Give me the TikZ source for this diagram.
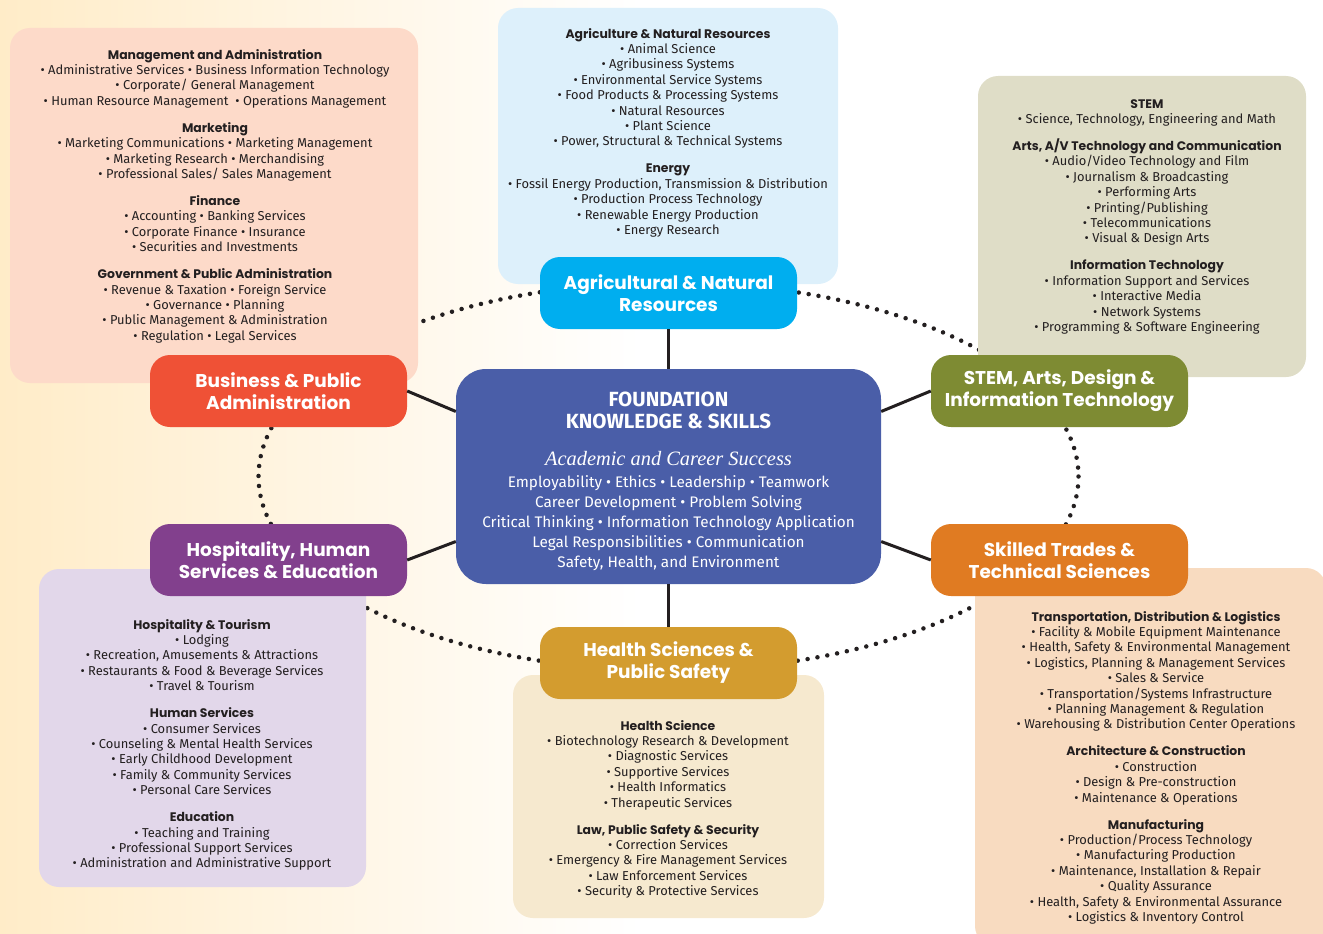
\documentclass[tikz,border=0pt]{standalone}
\usepackage{fontspec}
\setmainfont{Fira Sans}
\newfontfamily\headfont{Poppins}
\newfontfamily\italfont{Liberation Serif}
\definecolor{ink}{RGB}{35,31,32}
\definecolor{bgleft}{RGB}{255,236,200}
\definecolor{busfill}{RGB}{239,81,54}
\definecolor{busback}{RGB}{253,218,201}
\definecolor{agrifill}{RGB}{0,174,239}
\definecolor{agriback}{RGB}{221,240,251}
\definecolor{stemfill}{RGB}{126,139,51}
\definecolor{stemback}{RGB}{223,221,199}
\definecolor{tradesfill}{RGB}{224,123,34}
\definecolor{tradesback}{RGB}{248,219,192}
\definecolor{healthfill}{RGB}{211,156,47}
\definecolor{healthback}{RGB}{246,233,207}
\definecolor{hospfill}{RGB}{130,64,141}
\definecolor{hospback}{RGB}{226,215,234}
\definecolor{foundfill}{RGB}{74,94,168}
\tikzstyle{every link} = [line width=3pt, ink]
\tikzstyle{link} = [draw, every link]
\tikzstyle{ring} = [draw, ink, line width=4.5pt, line cap=round, dash pattern=on 0pt off 10pt]
\newcommand{\clhead}[1]{{\headfont\bfseries\fontsize{12.4}{15.4}\selectfont #1}}

\begin{document}
\begin{tikzpicture}[
		x=1pt, y=-1pt,
		cluster/.style = {
			rounded corners=20pt,
			minimum width=257pt,
			minimum height=72pt,
			inner sep=0pt,
			text=white,
			align=center,
			font=\headfont\bfseries\fontsize{18.5}{22}\selectfont
		},
		infobox/.style = {rounded corners=20pt, inner sep=0pt},
		infotext/.style = {
			anchor=north,
			align=center,
			inner sep=0pt,
			text=ink,
			font=\fontsize{12.9}{15.4}\selectfont
		}
	]
	\useasboundingbox (0,0) rectangle (1323,934);
	\clip (0,0) rectangle (1323,934);
	\shade[left color=bgleft, right color=white] (0,0) rectangle (640,934);

	\node[rounded corners=30pt, fill=foundfill, minimum width=425pt, minimum height=215pt, inner sep=0pt] (found) at (668.5,476.5) {};
	\node[text=white, align=center, inner sep=0pt, font=\fontsize{15.3}{20}\selectfont] (foundtext) at ([yshift=-4.5pt]found.center)
		{{\bfseries\fontsize{20.5}{20}\selectfont FOUNDATION}\\[2pt]
		{\bfseries\fontsize{20.5}{20}\selectfont KNOWLEDGE \& SKILLS}\\[17pt]
		{\italfont\itshape\fontsize{20.4}{20}\selectfont Academic and Career Success}\\[2pt]
		Employability • Ethics • Leadership • Teamwork\\
		Career Development • Problem Solving\\
		Critical Thinking • Information Technology Application\\
		Legal Responsibilities • Communication\\
		Safety, Health, and Environment};

	\draw[ring] (found.center) ellipse [x radius=410, y radius=194];

	\node[infobox, fill=busback, minimum width=408pt, minimum height=355pt] (busbox) at (214,205.5) {};
	\node[infobox, fill=agriback, minimum width=340pt, minimum height=276pt] (agribox) at (668,146) {};
	\node[infobox, fill=stemback, minimum width=328pt, minimum height=301pt] (stembox) at (1142,226.5) {};
	\node[infobox, fill=hospback, minimum width=327pt, minimum height=318pt] (hospbox) at (202.5,728) {};
	\node[infobox, fill=healthback, minimum width=311pt, minimum height=243pt] (healthbox) at (668.5,796.5) {};
	\node[infobox, fill=tradesback, minimum width=351pt, minimum height=378pt] (tradesbox) at (1150.5,757) {};

	\node[infotext] (bustext) at (215,49) {\clhead{Management and Administration}\\
		• Administrative Services • Business Information Technology\\
		• Corporate/ General Management\\
		• Human Resource Management~ • Operations Management\\[11.6pt]
		\clhead{Marketing}\\
		• Marketing Communications • Marketing Management\\
		• Marketing Research • Merchandising\\
		• Professional Sales/ Sales Management\\[11.6pt]
		\clhead{Finance}\\
		• Accounting • Banking Services\\
		• Corporate Finance • Insurance\\
		• Securities and Investments\\[11.6pt]
		\clhead{Government \& Public Administration}\\
		• Revenue \& Taxation • Foreign Service\\
		• Governance • Planning\\
		• Public Management \& Administration\\
		• Regulation • Legal Services};
	\node[infotext] (agritext) at (668,28) {\clhead{Agriculture \& Natural Resources}\\
		• Animal Science\\
		• Agribusiness Systems\\
		• Environmental Service Systems\\
		• Food Products \& Processing Systems\\
		• Natural Resources\\
		• Plant Science\\
		• Power, Structural \& Technical Systems\\[11.6pt]
		\clhead{Energy}\\
		• Fossil Energy Production, Transmission \& Distribution\\
		• Production Process Technology\\
		• Renewable Energy Production\\
		• Energy Research};
	\node[infotext] (stemtext) at (1147,99) {\clhead{STEM}\\
		• Science, Technology, Engineering and Math\\[11.6pt]
		\clhead{Arts, A/V Technology and Communication}\\
		• Audio/Video Technology and Film\\
		• Journalism \& Broadcasting\\
		• Performing Arts\\
		• Printing/Publishing\\
		• Telecommunications\\
		• Visual \& Design Arts\\[11.6pt]
		\clhead{Information Technology}\\
		• Information Support and Services\\
		• Interactive Media\\
		• Network Systems\\
		• Programming \& Software Engineering};
	\node[infotext] (hosptext) at (202,619) {\clhead{Hospitality \& Tourism}\\
		• Lodging\\
		• Recreation, Amusements \& Attractions\\
		• Restaurants \& Food \& Beverage Services\\
		• Travel \& Tourism\\[11.6pt]
		\clhead{Human Services}\\
		• Consumer Services\\
		• Counseling \& Mental Health Services\\
		• Early Childhood Development\\
		• Family \& Community Services\\
		• Personal Care Services\\[11.6pt]
		\clhead{Education}\\
		• Teaching and Training\\
		• Professional Support Services\\
		• Administration and Administrative Support};
	\node[infotext] (healthtext) at (668,720) {\clhead{Health Science}\\
		• Biotechnology Research \& Development\\
		• Diagnostic Services\\
		• Supportive Services\\
		• Health Informatics\\
		• Therapeutic Services\\[11.6pt]
		\clhead{Law, Public Safety \& Security}\\
		• Correction Services\\
		• Emergency \& Fire Management Services\\
		• Law Enforcement Services\\
		• Security \& Protective Services};
	\node[infotext] (tradestext) at (1156,611) {\clhead{Transportation, Distribution \& Logistics}\\
		• Facility \& Mobile Equipment Maintenance\\
		• Health, Safety \& Environmental Management\\
		• Logistics, Planning \& Management Services\\
		• Sales \& Service\\
		• Transportation/Systems Infrastructure\\
		• Planning Management \& Regulation\\
		• Warehousing \& Distribution Center Operations\\[11.6pt]
		\clhead{Architecture \& Construction}\\
		• Construction\\
		• Design \& Pre-construction\\
		• Maintenance \& Operations\\[11.6pt]
		\clhead{Manufacturing}\\
		• Production/Process Technology\\
		• Manufacturing Production\\
		• Maintenance, Installation \& Repair\\
		• Quality Assurance\\
		• Health, Safety \& Environmental Assurance\\
		• Logistics \& Inventory Control};

	\node[cluster, fill=busfill] (bus) at (278.5,391) {Business \& Public\\Administration};
	\node[cluster, fill=agrifill] (agri) at (668.5,293) {Agricultural \& Natural\\Resources};
	\node[cluster, fill=stemfill] (stem) at (1059.5,391) {STEM, Arts, Design \&\\Information Technology};
	\node[cluster, fill=hospfill] (hosp) at (278.5,560) {Hospitality, Human\\Services \& Education};
	\node[cluster, fill=healthfill] (health) at (668.5,663) {Health Sciences \&\\Public Safety};
	\node[cluster, fill=tradesfill] (trades) at (1059.5,560) {Skilled Trades \&\\Technical Sciences};

	\draw[link] (agri) -- (found);
	\draw[link] (health) -- (found);
	\draw[link] (bus.east) -- (found.163);
	\draw[link] (stem.west) -- (found.17);
	\draw[link] (hosp.east) -- (found.197);
	\draw[link] (trades.west) -- (found.343);
\end{tikzpicture}
\end{document}
